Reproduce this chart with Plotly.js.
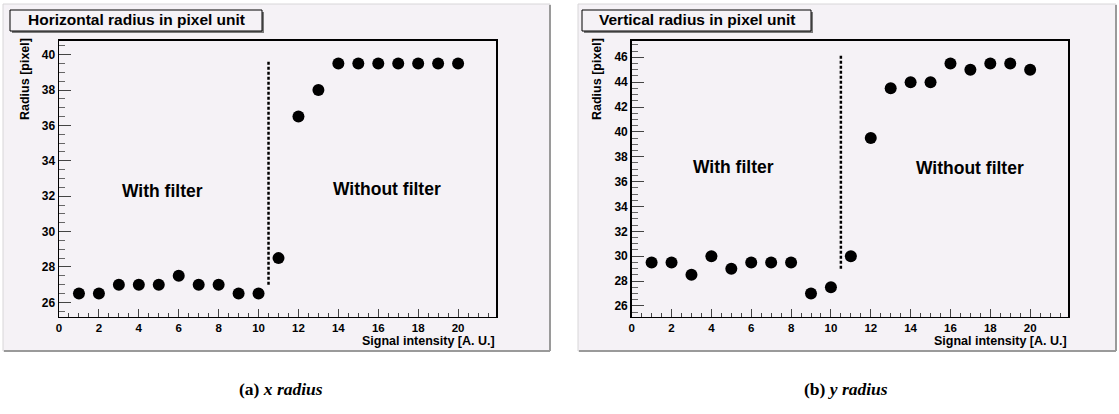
<!DOCTYPE html>
<html>
<head>
<meta charset="utf-8">
<script src="https://cdn.plot.ly/plotly-3.0.1.min.js"></script>
<style>
html,body{margin:0;padding:0;background:#fff;}
#chart{width:1119px;height:414px;}
</style>
</head>
<body>
<div id="chart"></div>
<script>
// ---- data ----
const signal = [1,2,3,4,5,6,7,8,9,10,11,12,13,14,15,16,17,18,19,20];
const xRadius = [26.5,26.5,27,27,27,27.5,27,27,26.5,26.5,28.5,36.5,38,39.5,39.5,39.5,39.5,39.5,39.5,39.5];
const yRadius = [29.5,29.5,28.5,30,29,29.5,29.5,29.5,27,27.5,30,39.5,43.5,44,44,45.5,45,45.5,45.5,45];
const cutX = [10.5, 10.5];
const cutXRadiusY = [27, 39.7];
const cutYRadiusY = [29, 46.2];
const xTicks = [0,2,4,6,8,10,12,14,16,18,20];
const yTicksX = [26,28,30,32,34,36,38,40];
const yTicksY = [26,28,30,32,34,36,38,40,42,44,46];
const panelTitles = ["Horizontal radius in pixel unit", "Vertical radius in pixel unit"];
const captions = ["<b>(a) <i>x radius</i></b>", "<b>(b) <i>y radius</i></b>"];
const regionLabels = ["With filter", "Without filter"];

// ---- layout helpers ----
const W = 1119, H = 414;
const px = x => x / W;
const py = y => 1 - y / H;
const lav = '#f5f2f6';
const FONT = 'Liberation Sans, Arial, sans-serif';
const bold = v => '<b>' + v + '</b>';

const markerStyle = {color: '#000', size: 12, symbol: 'circle'};
const cutLine = {color: '#000', width: 2.5, dash: '3px,2px'};

const traces = [
  {x: signal, y: xRadius, xaxis: 'x', yaxis: 'y', mode: 'markers', marker: markerStyle, hoverinfo: 'skip'},
  {x: cutX, y: cutXRadiusY, xaxis: 'x', yaxis: 'y', mode: 'lines', line: cutLine, hoverinfo: 'skip'},
  {x: signal, y: yRadius, xaxis: 'x2', yaxis: 'y2', mode: 'markers', marker: markerStyle, hoverinfo: 'skip'},
  {x: cutX, y: cutYRadiusY, xaxis: 'x2', yaxis: 'y2', mode: 'lines', line: cutLine, hoverinfo: 'skip'}
];

const tickFont = {family: FONT, size: 11.5, color: '#000', weight: 'bold'};

function xAxis(dom, anchor) {
  return {
    domain: dom, anchor: anchor, range: [0, 21.9],
    tickmode: 'array', tickvals: xTicks, ticktext: xTicks.map(bold),
    ticks: 'inside', ticklen: 8, tickwidth: 1, tickcolor: '#444',
    minor: {dtick: 0.5, ticks: 'inside', ticklen: 4, tickcolor: '#444', tickwidth: 1, showgrid: false},
    showline: true, linecolor: '#000', linewidth: 1.5, mirror: true,
    showgrid: false, zeroline: false,
    tickfont: tickFont
  };
}
function yAxis(dom, anchor, range, ticks) {
  return {
    domain: dom, anchor: anchor, range: range,
    tickmode: 'array', tickvals: ticks, ticktext: ticks.map(bold),
    ticks: 'inside', ticklen: 12, tickwidth: 1, tickcolor: '#444',
    minor: {dtick: 0.5, tick0: 0, ticks: 'inside', ticklen: 6, tickcolor: '#666', tickwidth: 1, showgrid: false},
    showline: true, linecolor: '#000', linewidth: 1.5, mirror: true,
    showgrid: false, zeroline: false,
    tickfont: {family: FONT, size: 12, color: '#000', weight: 'bold'}
  };
}

const plotTop = py(40.5), plotBot = py(316.5);

const shapes = [];
function panel(x0, x1) {
  shapes.push({type: 'rect', xref: 'paper', yref: 'paper', x0: px(x0), x1: px(x1), y0: py(351), y1: py(4),
    fillcolor: lav, line: {color: '#d8d6d8', width: 1}, layer: 'below'});
  shapes.push({type: 'line', xref: 'paper', yref: 'paper', x0: px(x1), x1: px(x1), y0: py(351), y1: py(5),
    line: {color: '#9a9a9a', width: 2}, layer: 'below'});
  shapes.push({type: 'line', xref: 'paper', yref: 'paper', x0: px(x0 + 1), x1: px(x1), y0: py(351), y1: py(351),
    line: {color: '#9a9a9a', width: 2}, layer: 'below'});
}
panel(3, 550);
panel(578, 1116);

function titleBox(x0, x1) {
  shapes.push({type: 'rect', xref: 'paper', yref: 'paper', x0: px(x0 + 2), x1: px(x1 + 2), y0: py(33), y1: py(12),
    fillcolor: '#7a7a7a', line: {width: 0}});
  shapes.push({type: 'rect', xref: 'paper', yref: 'paper', x0: px(x0), x1: px(x1), y0: py(31), y1: py(10),
    fillcolor: lav, line: {color: '#000', width: 1}});
}
titleBox(10, 262);
titleBox(582, 811);

const annFont = {family: FONT, size: 17.5, color: '#000', weight: 'bold'};
const labFont = {family: FONT, size: 12.5, color: '#000', weight: 'bold'};
const annotations = [
  {xref: 'paper', yref: 'paper', x: px(136), y: py(20), text: bold(panelTitles[0]), showarrow: false,
    xanchor: 'center', yanchor: 'middle', font: {family: FONT, size: 15.5, color: '#000', weight: 'bold'}},
  {xref: 'paper', yref: 'paper', x: px(697), y: py(20), text: bold(panelTitles[1]), showarrow: false,
    xanchor: 'center', yanchor: 'middle', font: {family: FONT, size: 15.5, color: '#000', weight: 'bold'}},
  {xref: 'paper', yref: 'paper', x: px(25), y: py(79), text: bold('Radius [pixel]'), textangle: -90, showarrow: false,
    xanchor: 'center', yanchor: 'middle', font: labFont},
  {xref: 'paper', yref: 'paper', x: px(597), y: py(79), text: bold('Radius [pixel]'), textangle: -90, showarrow: false,
    xanchor: 'center', yanchor: 'middle', font: labFont},
  {xref: 'paper', yref: 'paper', x: px(497), y: py(341), text: bold('Signal intensity [A. U.]'), showarrow: false,
    xanchor: 'right', yanchor: 'middle', font: labFont},
  {xref: 'paper', yref: 'paper', x: px(1069), y: py(341), text: bold('Signal intensity [A. U.]'), showarrow: false,
    xanchor: 'right', yanchor: 'middle', font: labFont},
  {xref: 'x', yref: 'y', x: 5.2, y: 32.3, text: bold(regionLabels[0]), showarrow: false, font: annFont},
  {xref: 'x', yref: 'y', x: 16.45, y: 32.4, text: bold(regionLabels[1]), showarrow: false, font: annFont},
  {xref: 'x2', yref: 'y2', x: 5.1, y: 37.15, text: bold(regionLabels[0]), showarrow: false, font: annFont},
  {xref: 'x2', yref: 'y2', x: 17.0, y: 37.1, text: bold(regionLabels[1]), showarrow: false, font: annFont},
  {xref: 'paper', yref: 'paper', x: px(281), y: py(389), text: captions[0], showarrow: false,
    xanchor: 'center', yanchor: 'middle', font: {family: 'Liberation Serif, DejaVu Serif, serif', size: 17.5, color: '#000'}},
  {xref: 'paper', yref: 'paper', x: px(846), y: py(389), text: captions[1], showarrow: false,
    xanchor: 'center', yanchor: 'middle', font: {family: 'Liberation Serif, DejaVu Serif, serif', size: 17.5, color: '#000'}}
];

const layout = {
  width: W, height: H,
  margin: {l: 0, r: 0, t: 0, b: 0, pad: 0},
  paper_bgcolor: '#ffffff', plot_bgcolor: lav,
  showlegend: false,
  xaxis: xAxis([px(59), px(496)], 'y'),
  yaxis: yAxis([plotBot, plotTop], 'x', [25.2, 40.8], yTicksX),
  xaxis2: xAxis([px(631.7), px(1068)], 'y2'),
  yaxis2: yAxis([plotBot, plotTop], 'x2', [25.15, 47.35], yTicksY),
  shapes: shapes,
  annotations: annotations
};

Plotly.newPlot('chart', traces, layout, {staticPlot: true, displayModeBar: false});
</script>
</body>
</html>
